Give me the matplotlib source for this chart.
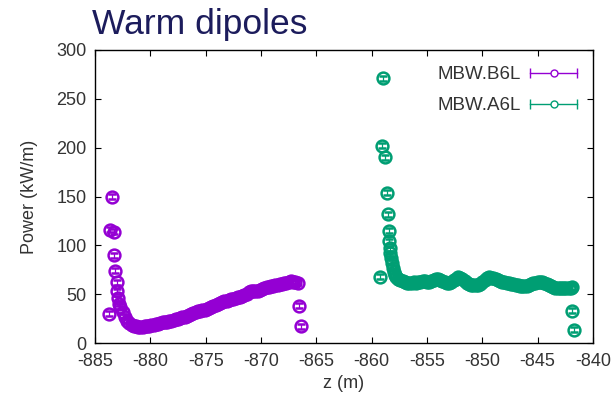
import matplotlib.pyplot as plt
from matplotlib.legend_handler import HandlerBase
from matplotlib.lines import Line2D

plt.rcParams["font.family"] = ["Liberation Sans", "DejaVu Sans"]
plt.rcParams["axes.unicode_minus"] = False

# MBW.B6L power deposition along z
z_b6l = [
    -883.74, -883.65, -883.44, -883.28, -883.28, -883.2, -883.05, -882.98,
    -882.9, -882.8,
    -882.7, -882.5, -882.3, -882.1, -881.9, -881.7, -881.5, -881.3, -881.1,
    -880.9, -880.7, -880.5, -880.3, -880.1, -879.9, -879.7, -879.5, -879.3,
    -879.1, -878.9, -878.7, -878.5, -878.3, -878.1, -877.9, -877.7, -877.5,
    -877.3, -877.1, -876.9, -876.7, -876.5, -876.3, -876.1, -875.9, -875.7,
    -875.5, -875.3, -875.1, -874.9, -874.7, -874.5, -874.3, -874.1, -873.9,
    -873.7, -873.5, -873.3, -873.1, -872.9, -872.7, -872.5, -872.3, -872.1,
    -871.9, -871.7, -871.5, -871.3, -871.1, -870.9, -870.7, -870.5, -870.3,
    -870.1, -869.9, -869.7, -869.5, -869.3, -869.1, -868.9, -868.7, -868.5,
    -868.3, -868.1, -867.9, -867.7, -867.5, -867.3, -867.1, -866.9, -866.7,
    -866.55, -866.4,
]
p_b6l = [
    30, 116, 150, 114, 90, 74, 62, 53,
    46, 40,
    37, 32, 27, 23, 20, 18.5, 17.5, 17, 16.5,
    16.5, 16.5, 17, 17, 17.5, 18, 18.5, 19, 19.5,
    20, 21, 21.5, 22, 22.5, 23, 23.5, 24.5, 25,
    26, 26.5, 27, 28, 29, 30, 31, 32, 32.5,
    33, 33.5, 34, 35, 36, 37, 38, 39, 40,
    41, 41.5, 42.5, 43.5, 44, 45, 45.5, 46, 47,
    47.5, 48.5, 49, 50.5, 52, 53, 53.5, 53.5, 53.5,
    54, 55, 56, 57, 57.5, 58, 58.5, 59, 59.5,
    60, 60.5, 61, 61.5, 62.5, 63, 62.5, 62, 61.5,
    38, 17,
]

# MBW.A6L power deposition along z
z_a6l = [
    -859.25, -859.05, -858.95, -858.8, -858.65, -858.55, -858.45, -858.4,
    -858.35, -858.3, -858.25, -858.2, -858.1, -858.0, -857.9,
    -857.8, -857.6, -857.4, -857.2, -857.0, -856.8, -856.6, -856.4, -856.2,
    -856.0, -855.8, -855.6, -855.4, -855.2, -855.0, -854.8, -854.6, -854.4,
    -854.2, -854.0, -853.8, -853.6, -853.4, -853.2, -853.0, -852.8, -852.6,
    -852.4, -852.2, -852.0, -851.8, -851.6, -851.4, -851.2, -851.0, -850.8,
    -850.6, -850.4, -850.2, -850.0, -849.8, -849.6, -849.4, -849.2, -849.0,
    -848.8, -848.6, -848.4, -848.2, -848.0, -847.8, -847.6, -847.4, -847.2,
    -847.0, -846.8, -846.6, -846.4, -846.2, -846.0, -845.8, -845.6, -845.4,
    -845.2, -845.0, -844.8, -844.6, -844.4, -844.2, -844.0, -843.8, -843.6,
    -843.4, -843.2, -843.0, -842.8, -842.6, -842.4, -842.2, -842.0, -841.9,
    -841.9, -841.7,
]
p_a6l = [
    68, 202, 271, 190, 154, 132, 115, 104,
    97, 92, 87, 82, 77, 73, 70,
    68, 66, 64.5, 63, 62, 61.5, 61, 61.5, 62,
    61.5, 62, 62.5, 63, 63, 62.5, 62, 63, 64.5,
    66, 66, 65, 63.5, 62, 61, 61.5, 62.5, 64,
    66, 67.5, 67, 65.5, 63.5, 61.5, 60.5, 59.5, 59,
    59, 59.5, 60, 62, 65, 67, 67.5, 67, 66.5,
    65.5, 64, 63, 62.5, 62, 61.5, 61, 60.5, 60,
    59.5, 59, 58.5, 58, 58, 58, 59, 60, 61,
    61.5, 62, 62, 62, 61, 60, 59, 58, 57,
    56.5, 56, 56, 56, 56.5, 56, 56, 56.5, 57,
    33, 13.5,
]

err_b6l = 2.5
err_a6l = 2.5

c_b6l = "#9400d3"
c_a6l = "#009e73"


class ErrorbarKey(HandlerBase):
    # gnuplot-style key sample: horizontal bar with end caps and an open point
    def create_artists(self, legend, orig, xdescent, ydescent, width, height,
                       fontsize, trans):
        c = orig.get_color()
        y = height / 2 - ydescent
        x0, x1 = -xdescent, -xdescent + width
        bar = Line2D([x0, x1], [y, y], color=c, lw=1)
        caps = Line2D([x0, x1], [y, y], ls="none", marker="|", ms=7,
                      mew=1, color=c)
        pt = Line2D([(x0 + x1) / 2], [y], ls="none", marker="o", ms=5,
                    mfc="white", mec=c, mew=1)
        for a in (bar, caps, pt):
            a.set_transform(trans)
        return [bar, caps, pt]


fig = plt.figure(figsize=(6.16, 3.97), dpi=100)
ax = fig.add_axes([95 / 616, 54 / 397, 498 / 616, 293 / 397])

for z, p, e, c, lab in [
    (z_b6l, p_b6l, err_b6l, c_b6l, "MBW.B6L"),
    (z_a6l, p_a6l, err_a6l, c_a6l, "MBW.A6L"),
]:
    ax.errorbar(z, p, yerr=e, fmt="o", ms=8.5, mfc="none", mec=c, mew=1.8,
                ecolor=c, elinewidth=0.9, capsize=3, capthick=0.9,
                color=c, label=lab)

ax.set_xlim(-885, -840)
ax.set_ylim(0, 300)
ax.set_xticks(range(-885, -839, 5))
ax.set_yticks(range(0, 301, 50))
ax.tick_params(direction="in", length=4, width=0.8, top=True, right=True,
               labelsize=13, labelcolor="#333333")
ax.tick_params(axis="x", pad=7)
ax.tick_params(axis="y", pad=6)
for s in ax.spines.values():
    s.set_linewidth(1.0)

ax.set_xlabel("z (m)", fontsize=13, color="#333333", labelpad=4)
ax.set_ylabel("Power (kW/m)", fontsize=13, color="#333333", labelpad=13)

handles = [Line2D([], [], color=c_b6l), Line2D([], [], color=c_a6l)]
ax.legend(handles, ["MBW.B6L", "MBW.A6L"], loc="upper right",
          handler_map={Line2D: ErrorbarKey()}, markerfirst=False,
          frameon=False, fontsize=13.5, handlelength=2.5, handletextpad=0.5,
          labelspacing=0.75, borderaxespad=0.45, labelcolor="#333333")

fig.text(92 / 616, 1 - 34 / 397, "Warm dipoles", fontsize=25.5,
         color="#1c1c5c", ha="left", va="baseline")

fig.savefig("out.png", dpi=100)
